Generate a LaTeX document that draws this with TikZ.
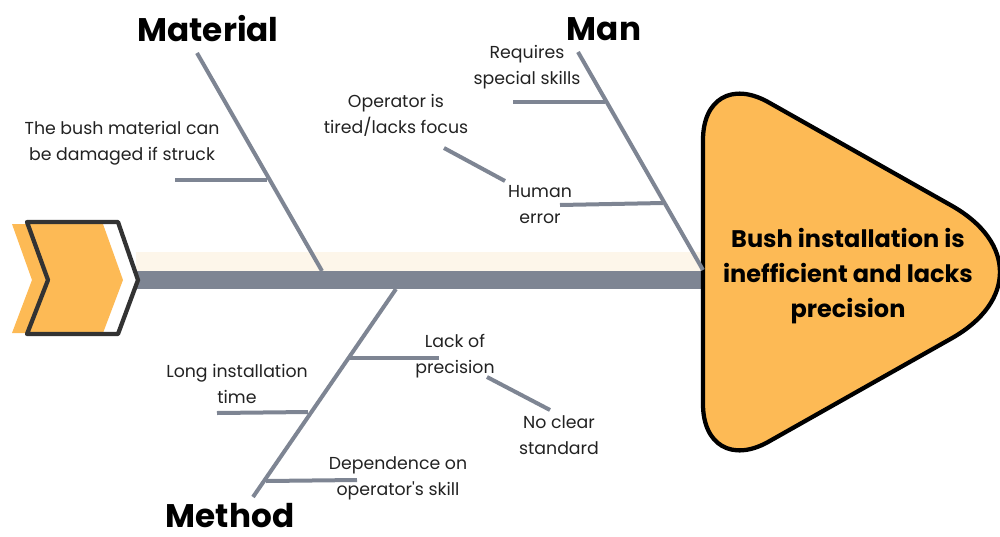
\documentclass[tikz,border=0pt]{standalone}
\usepackage{fontspec}
\setmainfont{Poppins}
\definecolor{fishorange}{HTML}{FDBA55}
\definecolor{bonegray}{HTML}{7E8593}
\definecolor{cream}{HTML}{FDF6EA}
\definecolor{darkline}{HTML}{333333}
\definecolor{txt}{HTML}{222222}
\begin{document}
\begin{tikzpicture}[x=0.75pt,y=-0.75pt,
  bone/.style={draw=bonegray,line width=3pt},
  lbl/.style={align=center,text=txt,font=\fontsize{13pt}{19.5pt}\selectfont,inner sep=0pt},
  cat/.style={text=black,font=\fontsize{24.5pt}{28pt}\selectfont\bfseries,inner sep=0pt},
  headtxt/.style={align=center,text=black,font=\fontsize{18pt}{26.3pt}\selectfont\bfseries,inner sep=0pt}]
\useasboundingbox (0,0) rectangle (1000,536);
% spine
\fill[cream] (136,252) rectangle (706,271);
\coordinate (spineL) at (136,280);
\coordinate (spineR) at (706,280);
\draw[draw=bonegray,line width=13.5pt] (spineL) -- (spineR);
% tail chevron
\fill[white] (27,222) -- (118,222) -- (138,280) -- (118,334) -- (27,334) -- (48,280) -- cycle;
\fill[fishorange] (12,224) -- (103,224) -- (123,280) -- (103,333) -- (12,333) -- (32,280) -- cycle;
\draw[darkline,line width=3.2pt,line join=round] (27,222) -- (118,222) -- (138,280) -- (118,334) -- (27,334) -- (48,280) -- cycle;
% head
\draw[fill=fishorange,draw=black,line width=3.2pt]
  (703,272) -- (703,140) .. controls (703,99) and (732,82) .. (768,102)
  -- (951.5,205.6) .. controls (1016.1,242.1) and (1016.1,301.9) .. (951.5,338.4)
  -- (768,442) .. controls (732,462) and (703,445) .. (703,404) -- cycle;
\node[headtxt] (head) at (848,276) {Bush installation is\\inefficient and lacks\\precision};
% categories
\node[cat] (material) at (208,29) {Material};
\node[cat] (man) at (604,29) {Man};
\node[cat,anchor=base,text depth=0pt] (method) at (230,527) {Method};
% Material bone
\coordinate (matTop) at (197,53);
\coordinate (matBot) at (322,271);
\draw[bone] (matTop) -- (matBot);
\coordinate (matS1a) at (175,180);
\coordinate (matS1b) at (267,180);
\draw[bone] (matS1a) -- (matS1b);
\node[lbl] (lmat1) at (122,143) {The bush material can\\be damaged if struck};
% Man bone
\coordinate (manTop) at (578,52);
\coordinate (manBot) at (703,270);
\draw[bone] (manTop) -- (manBot);
\coordinate (manS1a) at (513,102);
\coordinate (manS1b) at (605,102);
\draw[bone] (manS1a) -- (manS1b);
\node[lbl] (lman1) at (527,67) {Requires\\special skills};
\coordinate (manS2a) at (560,205);
\coordinate (manS2b) at (663,203);
\draw[bone] (manS2a) -- (manS2b);
\node[lbl] (lman2) at (540,205) {Human\\error};
\coordinate (manS3a) at (444,148);
\coordinate (manS3b) at (505,181);
\draw[bone] (manS3a) -- (manS3b);
\node[lbl] (lman3) at (396,115) {Operator is\\tired/lacks focus};
% Method bone
\coordinate (metTop) at (396,289);
\coordinate (metBot) at (253,497);
\draw[bone] (metTop) -- (metBot);
\coordinate (metS1a) at (349,358);
\coordinate (metS1b) at (439,358);
\draw[bone] (metS1a) -- (metS1b);
\node[lbl] (lmet1) at (455,356) {Lack of\\precision};
\coordinate (metS2a) at (487,377);
\coordinate (metS2b) at (550,410);
\draw[bone] (metS2a) -- (metS2b);
\node[lbl] (lmet2) at (559,435) {No clear\\standard};
\coordinate (metS3a) at (217,413);
\coordinate (metS3b) at (308,412);
\draw[bone] (metS3a) -- (metS3b);
\node[lbl] (lmet3) at (237,384) {Long installation\\time};
\coordinate (metS4a) at (266,481);
\coordinate (metS4b) at (357,480);
\draw[bone] (metS4a) -- (metS4b);
\node[lbl] (lmet4) at (398,478) {Dependence on\\operator\textquotesingle s skill};
\end{tikzpicture}
\end{document}
